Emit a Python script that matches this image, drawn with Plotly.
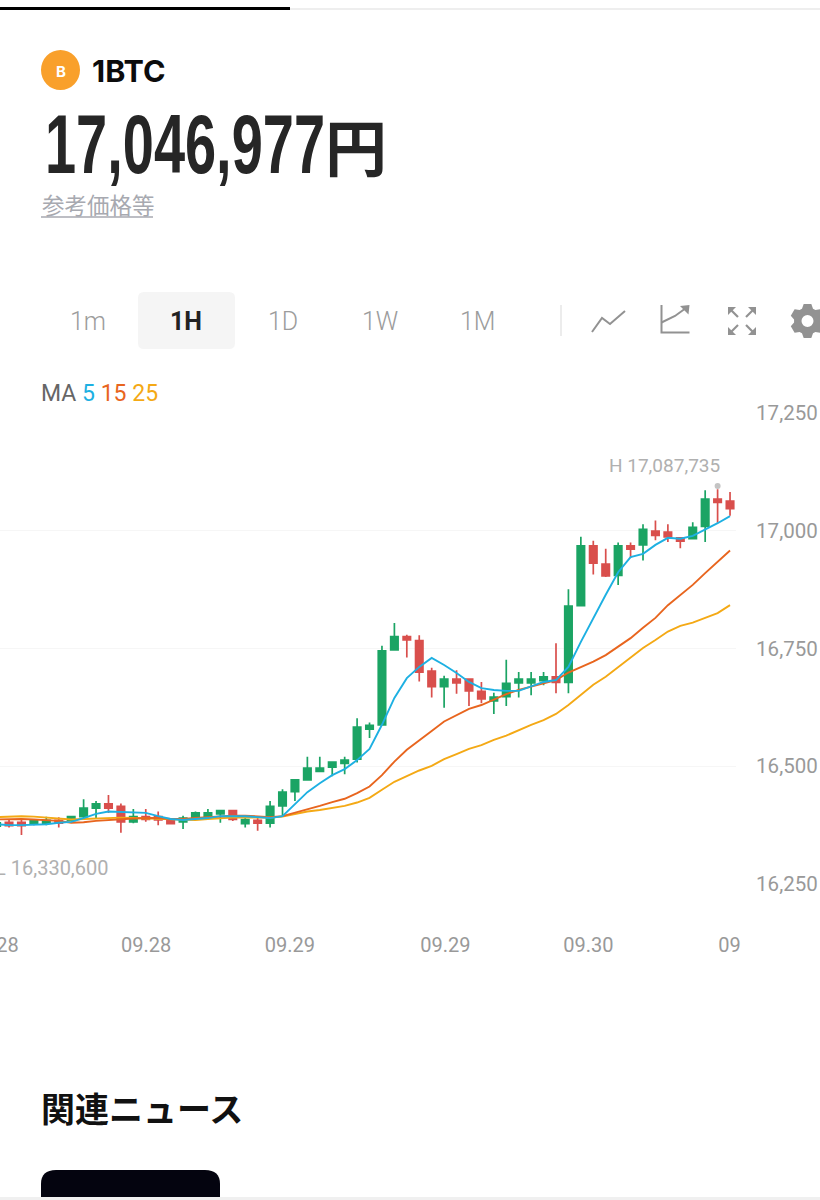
import math
import plotly.graph_objects as go

# prices in thousand yen, one hourly candle per entry
open_ = [16373, 16381, 16381, 16377, 16379, 16385, 16385, 16393, 16411, 16420,
         16415, 16382, 16393, 16393, 16386, 16382, 16390, 16394, 16399, 16406,
         16378, 16385, 16379, 16416, 16446, 16471, 16489, 16498, 16506, 16515,
         16579, 16588, 16747, 16775, 16767, 16702, 16669, 16685, 16685, 16659,
         16639, 16648, 16677, 16677, 16682, 16690, 16678, 16841, 16968, 16929,
         16905, 16968, 16970, 16999, 16997, 16985, 16983, 17009, 17067, 17063]
high = [16384, 16386, 16388, 16387, 16393, 16392, 16394, 16430, 16426, 16439,
        16421, 16409, 16409, 16404, 16386, 16395, 16404, 16409, 16406, 16406,
        16391, 16391, 16426, 16451, 16471, 16520, 16520, 16509, 16520, 16602,
        16593, 16756, 16804, 16779, 16778, 16709, 16692, 16704, 16685, 16679,
        16656, 16726, 16700, 16700, 16700, 16761, 16876, 16987, 16979, 16962,
        16975, 16975, 17014, 17022, 17014, 16985, 17018, 17086, 17088, 17082]
low = [16371, 16370, 16354, 16375, 16375, 16370, 16384, 16387, 16388, 16401,
       16359, 16379, 16382, 16375, 16378, 16367, 16387, 16392, 16380, 16384,
       16370, 16363, 16370, 16393, 16426, 16469, 16489, 16479, 16483, 16508,
       16560, 16588, 16747, 16731, 16680, 16646, 16624, 16654, 16628, 16634,
       16611, 16628, 16646, 16651, 16672, 16655, 16655, 16841, 16907, 16902,
       16885, 16942, 16937, 16980, 16976, 16963, 16983, 16976, 17017, 17032]
close = [16380, 16374, 16374, 16385, 16385, 16379, 16393, 16411, 16420, 16411,
         16382, 16393, 16387, 16386, 16378, 16390, 16401, 16401, 16406, 16387,
         16387, 16379, 16415, 16445, 16471, 16496, 16496, 16509, 16513, 16583,
         16587, 16745, 16775, 16768, 16700, 16669, 16685, 16677, 16660, 16643,
         16647, 16676, 16685, 16685, 16690, 16678, 16840, 16968, 16931, 16904,
         16968, 16961, 17003, 16990, 16987, 16978, 17007, 17067, 17060, 17047]
ma5 = [16377, 16375, 16375, 16376, 16377, 16380, 16382, 16390, 16399, 16404,
       16403, 16402, 16401, 16394, 16388, 16386, 16388, 16390, 16394, 16394,
       16394, 16392, 16390, 16394, 16420, 16445, 16464, 16481, 16494, 16513,
       16537, 16588, 16645, 16687, 16711, 16730, 16715, 16698, 16679, 16666,
       16662, 16660, 16660, 16670, 16679, 16683, 16711, 16764, 16815, 16864,
       16912, 16944, 16951, 16970, 16985, 16983, 16989, 17002, 17016, 17031]
ma15 = [16387, 16388, 16388, 16387, 16386, 16384, 16380, 16381, 16384, 16386,
        16388, 16389, 16390, 16390, 16388, 16388, 16390, 16392, 16394, 16395,
        16395, 16394, 16392, 16394, 16401, 16409, 16416, 16424, 16431, 16443,
        16457, 16481, 16510, 16535, 16556, 16575, 16595, 16609, 16622, 16630,
        16641, 16653, 16662, 16669, 16677, 16683, 16699, 16711, 16722, 16736,
        16754, 16772, 16794, 16815, 16842, 16864, 16885, 16910, 16934, 16958]
ma25 = [16392, 16393, 16394, 16393, 16391, 16388, 16387, 16388, 16389, 16390,
        16391, 16390, 16389, 16388, 16387, 16386, 16386, 16388, 16390, 16391,
        16391, 16391, 16391, 16393, 16399, 16404, 16407, 16411, 16416, 16423,
        16433, 16450, 16467, 16479, 16491, 16501, 16515, 16526, 16537, 16545,
        16556, 16565, 16577, 16588, 16598, 16611, 16630, 16651, 16673, 16690,
        16711, 16730, 16751, 16768, 16786, 16798, 16805, 16815, 16825, 16842]
y_ticks = [16250, 16500, 16750, 17000, 17250]
x_ticks = [0.88, 12.02, 23.6, 36.1, 47.6, 58.96]
x_labels = ["28", "09.28", "09.29", "09.29", "09.30", "09"]
tabs = ["1m", "1H", "1D", "1W", "1M"]
tab_x = [88, 186, 283, 380, 478]

W, H = 820, 1200
GREEN, RED = "#1BA464", "#D94F4C"
BLUE, ORANGE, AMBER = "#1DB0E2", "#E8651E", "#F4A915"
GREY = "#999999"
ICON = "#929292"
idx = list(range(len(close)))


def px(x):
    return x / W


def py(y):
    return 1 - y / H


def path_shape(points, fill=None, line=None, width=0, closed=False):
    d = "M " + " L ".join(f"{px(x):.5f},{py(y):.5f}" for x, y in points)
    if closed:
        d += " Z"
    return dict(type="path", xref="paper", yref="paper", path=d, layer="below",
                fillcolor=fill or "rgba(0,0,0,0)",
                line=dict(color=line or "rgba(0,0,0,0)", width=width))


def label(x, y, text, size, color, family="Inter", anchor="left", weight=None, **kw):
    return dict(xref="paper", yref="paper", x=px(x), y=py(y), text=text, showarrow=False,
                xanchor=anchor, yanchor="middle", align=anchor,
                font=dict(size=size, color=color, family=family, weight=weight), **kw)


fig = go.Figure()
for series, colour in [(ma25, AMBER), (ma15, ORANGE), (ma5, BLUE)]:
    fig.add_trace(go.Scatter(x=idx, y=series, mode="lines", hoverinfo="skip",
                             line=dict(color=colour, width=1.9)))
fig.add_trace(go.Candlestick(
    x=idx, open=open_, high=high, low=low, close=close, whiskerwidth=0, hoverinfo="skip",
    increasing=dict(line=dict(color=GREEN, width=1.7), fillcolor=GREEN),
    decreasing=dict(line=dict(color=RED, width=1.7), fillcolor=RED)))
# little dot over the candle with the period high
fig.add_trace(go.Scatter(x=[58], y=[17095], mode="markers", hoverinfo="skip",
                         marker=dict(color="#c4c4c4", size=6)))

# header, toolbar icons
shapes = [
    path_shape([(0, 8.5), (290, 8.5)], line="#000000", width=3),
    path_shape([(290, 9), (820, 9)], line="#eeeeee", width=2),
    dict(type="circle", xref="paper", yref="paper", x0=px(41), x1=px(80), y0=py(90), y1=py(50),
         fillcolor="#F9A02B", line=dict(width=0), layer="below"),
    path_shape([(41, 217), (153, 217)], line="#a7a9b0", width=1.5),
    dict(type="path", xref="paper", yref="paper", layer="below", fillcolor="#f5f5f5", line=dict(width=0),
         path=f"M {px(144)},{py(292)} L {px(229)},{py(292)} Q {px(235)},{py(292)} {px(235)},{py(298)} "
              f"L {px(235)},{py(343)} Q {px(235)},{py(349)} {px(229)},{py(349)} L {px(144)},{py(349)} "
              f"Q {px(138)},{py(349)} {px(138)},{py(343)} L {px(138)},{py(298)} Q {px(138)},{py(292)} {px(144)},{py(292)} Z"),
    path_shape([(561, 305), (561, 336)], line="#e6e6e6", width=1.5),
    path_shape([(592, 332), (602, 318), (610, 324), (625, 311)], line=ICON, width=2),
    path_shape([(661.5, 305), (661.5, 332.5), (689.5, 332.5)], line=ICON, width=2),
    path_shape([(661.5, 322.5), (675, 316), (686, 308)], line=ICON, width=2),
    path_shape([(689.5, 305), (680, 306), (688.5, 314.5)], fill=ICON, closed=True),
    # strip along the very bottom
    path_shape([(0, 1197), (820, 1197), (820, 1200), (0, 1200)], fill="#f0f0f0", closed=True),
]
# fullscreen arrows
for cx, cy, sx, sy in [(728, 307, 1, 1), (756, 307, -1, 1), (728, 335, 1, -1), (756, 335, -1, -1)]:
    shapes.append(path_shape([(cx, cy), (cx + 8 * sx, cy), (cx, cy + 8 * sy)], fill=ICON, closed=True))
    shapes.append(path_shape([(cx + 3 * sx, cy + 3 * sy), (cx + 10 * sx, cy + 10 * sy)], line=ICON, width=2.2))
# gear
gear = []
for n in range(6):
    a = -math.pi / 2 + n * math.pi / 3
    for off, r in [(-0.42, 13.5), (-0.22, 17.5), (0.22, 17.5), (0.42, 13.5)]:
        gear.append((807.5 + r * math.cos(a + off), 321 + r * math.sin(a + off)))
shapes.append(path_shape(gear, fill=ICON, closed=True))
shapes.append(dict(type="circle", xref="paper", yref="paper", x0=px(801.5), x1=px(813.5), y0=py(327), y1=py(315),
                   fillcolor="#ffffff", line=dict(width=0), layer="below"))
# dark news thumbnail cut by the bottom edge
shapes.append(dict(type="path", xref="paper", yref="paper", layer="below", fillcolor="#04040f", line=dict(width=0),
                   path=f"M {px(41)},{py(1197)} L {px(41)},{py(1184)} Q {px(41)},{py(1170)} {px(56)},{py(1170)} "
                        f"L {px(205)},{py(1170)} Q {px(220)},{py(1170)} {px(220)},{py(1184)} L {px(220)},{py(1197)} Z"))

annotations = [
    label(61, 71, "<b>B</b>", 15, "#ffffff", anchor="center"),
    label(90, 70, "1BTC", 30.5, "#0c0c0c", weight=700),
    label(185, 144, "17,046,977", 84, "#262626", family="Liberation Sans", anchor="center", weight=700, width=282),
    label(356, 145, "円", 62, "#262626", family="Noto Sans CJK JP", anchor="center", weight=700),
    label(39.5, 204, "参考価格等", 22.5, "#a7a9b0", family="Noto Sans CJK JP"),
    label(39, 393, f'MA <span style="color:{BLUE}">5</span> <span style="color:{ORANGE}">15</span> '
                   f'<span style="color:{AMBER}">25</span>', 23, "#666666", family="Roboto"),
    label(722, 466, "H 17,087,735", 19, "#b0b0b0", family="Roboto", anchor="right"),
    label(111, 868, "L 16,330,600", 20, "#b0b0b0", family="Roboto", anchor="right"),
    label(39, 1107, "関連ニュース", 34, "#111111", family="Noto Sans CJK JP", weight=700),
]
for name, x in zip(tabs, tab_x):
    active = name == "1H"
    annotations.append(label(x, 321.5, name, 25, "#222222" if active else "#9c9c9c", family="Roboto",
                             anchor="center", weight=700 if active else 300))

fig.update_layout(
    width=W, height=H, margin=dict(l=0, r=0, t=0, b=0, autoexpand=False), showlegend=False,
    paper_bgcolor="#ffffff", plot_bgcolor="#ffffff", boxgap=0.15,
    shapes=shapes, annotations=annotations,
    xaxis=dict(domain=[0, 736 / W], range=[0.274, 59.48], rangeslider=dict(visible=False),
               tickvals=x_ticks, ticktext=x_labels, showgrid=False, zeroline=False, showline=False,
               automargin=False, ticklabeloverflow="allow",
               ticks="outside", ticklen=42, tickcolor="rgba(0,0,0,0)",
               tickfont=dict(size=20, color=GREY, family="Roboto")),
    yaxis=dict(domain=[py(885), py(412)], range=[16247.9, 17252.1], side="right",
               tickvals=y_ticks, tickformat=",d", gridcolor="#f6f6f6", gridwidth=1,
               zeroline=False, showline=False, automargin=False, ticklabeloverflow="allow",
               ticks="outside", ticklen=15, tickcolor="rgba(0,0,0,0)",
               tickfont=dict(size=20.5, color=GREY, family="Roboto")),
)

# the price font in the app is condensed, nothing like it is installed so squeeze the text
squeeze = """
document.body.style.margin='0';document.body.style.overflow='hidden';
document.querySelectorAll('text.annotation-text').forEach(function(t){
  if(t.textContent==='17,046,977'){t.setAttribute('textLength','280');t.setAttribute('lengthAdjust','spacingAndGlyphs');}
});
"""
fig.write_html("out.html", config=dict(displayModeBar=False), post_script=squeeze)
